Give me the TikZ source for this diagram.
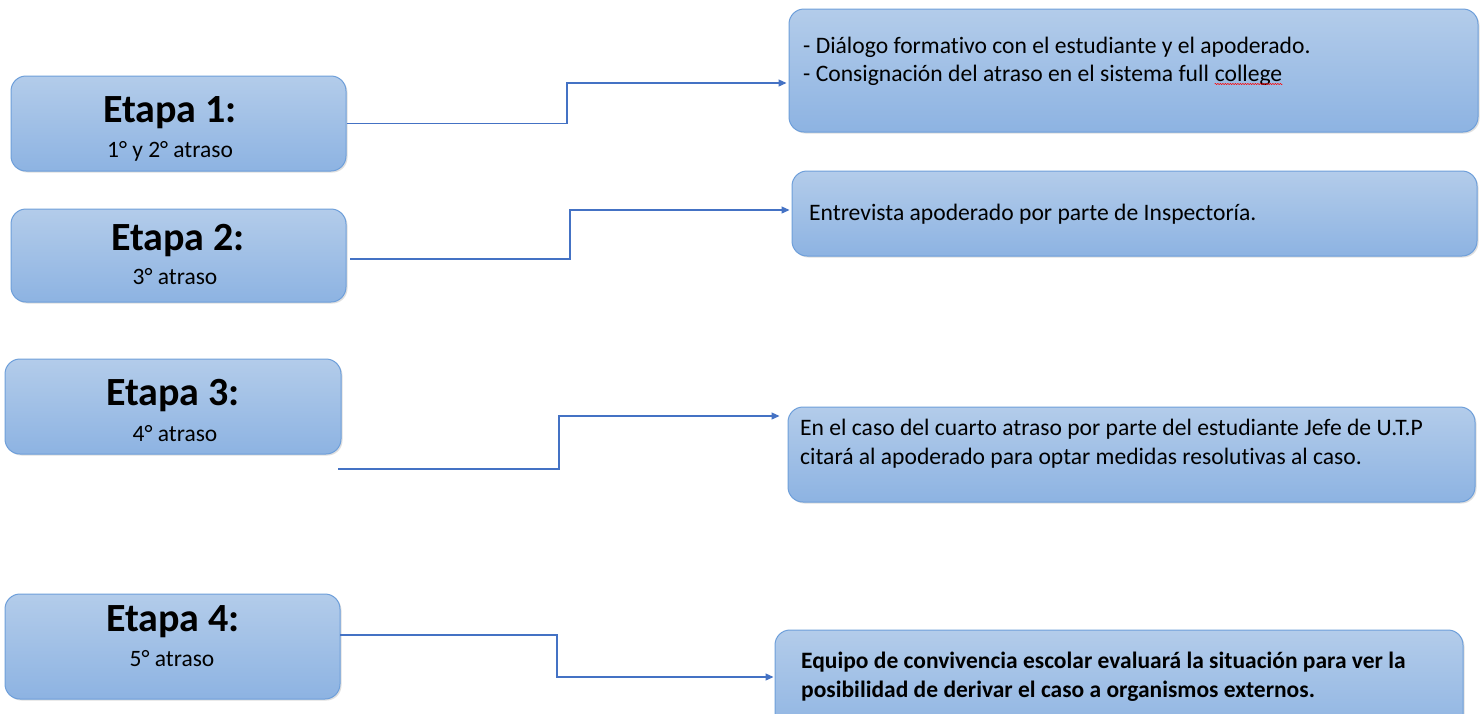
\documentclass[tikz,border=0pt]{standalone}
\usepackage{fontspec}
\setmainfont{Carlito}[Ligatures=NoCommon]
\usetikzlibrary{arrows.meta,decorations.pathmorphing,shadows}
\definecolor{boxtop}{HTML}{B3CCEA}
\definecolor{boxbot}{HTML}{8DB3E2}
\definecolor{boxline}{HTML}{6E9FDA}
\definecolor{conncol}{HTML}{4472C4}
\tikzset{
  box/.style={rounded corners=15pt, draw=boxline, line width=1pt, top color=boxtop, bottom color=boxbot, inner sep=0pt,
    drop shadow={shadow xshift=1.5pt, shadow yshift=-1.5pt, opacity=0.25}},
  etapa/.style={font=\fontsize{40}{42}\selectfont\bfseries, inner sep=0pt},
  sub/.style={font=\fontsize{23.5}{26}\selectfont, inner sep=0pt},
  body/.style={font=\fontsize{23.6}{26}\selectfont, inner sep=0pt, anchor=base west},
  bodyb/.style={font=\fontsize{23.5}{26}\selectfont\bfseries, inner sep=0pt, anchor=base west},
  conn/.style={draw=conncol, line width=1.2pt, -{Triangle[length=8pt,width=7pt]}}
}
\begin{document}
\begin{tikzpicture}[x=1pt,y=-1pt]
\useasboundingbox[fill=white] (0,0) rectangle (1484,713);
% left boxes
\node[box, minimum width=335pt, minimum height=95pt] (e1) at (178.5,123.5) {};
\node[etapa] (e1t) at (170,113) {Etapa 1:};
\node[sub] (e1s) at (170,151) {1° y 2° atraso};
\node[box, minimum width=335pt, minimum height=93pt] (e2) at (178.5,255.5) {};
\node[etapa] (e2t) at (178,241) {Etapa 2:};
\node[sub] (e2s) at (175,277) {3° atraso};
\node[box, minimum width=336pt, minimum height=95pt] (e3) at (173,406.5) {};
\node[etapa] (e3t) at (173,396) {Etapa 3:};
\node[sub] (e3s) at (175,434) {4° atraso};
\node[box, minimum width=335pt, minimum height=105pt] (e4) at (172.5,646.5) {};
\node[etapa] (e4t) at (173,622) {Etapa 4:};
\node[sub] (e4s) at (172,659) {5° atraso};
% right boxes
\node[box, minimum width=689pt, minimum height=123pt] (r1) at (1133.5,70.5) {};
\node[body] (r1a) at (803,53) {- Diálogo formativo con el estudiante y el apoderado.};
\node[body] (r1b) at (803,81) {- Consignación del atraso en el sistema full};
\node[body, anchor=base west] (r1c) at ([xshift=5.3pt]r1b.base east) {college};
\draw[red, line width=0.5pt, decorate, decoration={snake, amplitude=0.6pt, segment length=2.5pt}]
  ([yshift=-3pt]r1c.base west) -- ([yshift=-3pt]r1c.base east);
\node[box, minimum width=685pt, minimum height=85pt] (r2) at (1134.5,213.5) {};
\node[body] (r2a) at (809,220) {Entrevista apoderado por parte de Inspectoría.};
\node[box, minimum width=687pt, minimum height=95pt] (r3) at (1131.5,454.5) {};
\node[body] (r3a) at (800,435) {En el caso del cuarto atraso por parte del estudiante Jefe de U.T.P};
\node[body] (r3b) at (800,464) {citará al apoderado para optar medidas resolutivas al caso.};
\node[box, minimum width=688pt, minimum height=110pt] (r4) at (1119,685) {};
\node[bodyb] (r4a) at (801,668) {Equipo de convivencia escolar evaluará la situación para ver la};
\node[bodyb] (r4b) at (801,697) {posibilidad de derivar el caso a organismos externos.};
% connectors
\coordinate (y1) at (0,83);
\coordinate (y2) at (0,210);
\coordinate (y3) at (0,416);
\coordinate (y4) at (0,677);
\coordinate (s2) at (350,259);
\coordinate (s3) at (338,469);
\coordinate (s4) at (340,635);
\draw[conn] (e1.east) -- (567,123.5) |- ([xshift=-2pt]r1.west |- y1);
\draw[conn] (s2) -- (570,259) |- ([xshift=-2pt]r2.west |- y2);
\draw[conn] (s3) -- (559,469) |- ([xshift=-8pt]r3.west |- y3);
\draw[conn] (s4) -- (557,635) |- ([xshift=-1pt]r4.west |- y4);
\end{tikzpicture}
\end{document}
